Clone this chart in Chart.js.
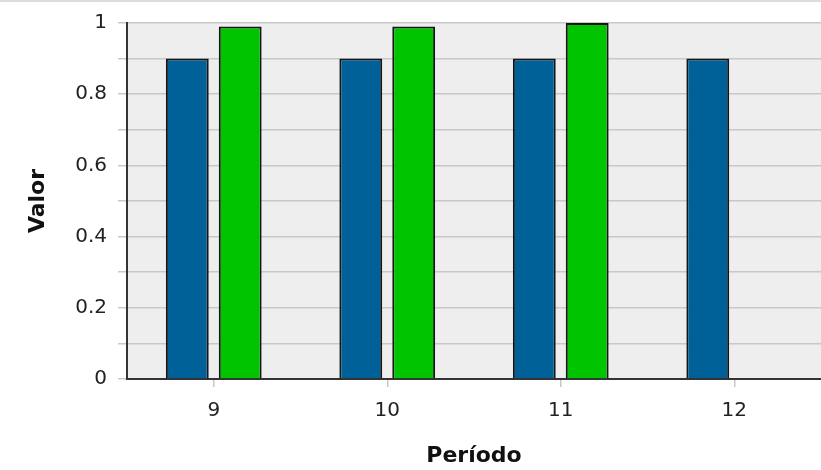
<!DOCTYPE html>
<html>
<head>
<meta charset="utf-8">
<script src="https://cdn.jsdelivr.net/npm/chart.js@4/dist/chart.umd.min.js"></script>
<style>
  html, body { margin: 0; padding: 0; background: #ffffff; overflow: hidden; }
  #topline { position: absolute; left: 0; top: 0; width: 821px; height: 2px; background: #dcdcdc; }
  #wrap { position: absolute; left: 0; top: 0; width: 821px; height: 470px; }
</style>
</head>
<body>
<div id="wrap"><canvas id="c" width="821" height="470"></canvas></div>
<div id="topline"></div>
<script>
const categories = ['9', '10', '11', '12'];
const seriesBlue = [0.9, 0.9, 0.9, 0.9];
const seriesGreen = [0.99, 0.99, 1.0, null];
const yTickValues = [0, 0.2, 0.4, 0.6, 0.8, 1];
const yTickLabels = ['0', '0.2', '0.4', '0.6', '0.8', '1'];
const xTitle = 'Período';
const yTitle = 'Valor';

const plotBg = {
  id: 'plotBg',
  beforeDraw(chart) {
    const { ctx, chartArea: a } = chart;
    ctx.save();
    ctx.fillStyle = '#eeeeee';
    ctx.fillRect(a.left, a.top, a.right - a.left, a.bottom - a.top);
    ctx.restore();
  }
};

new Chart(document.getElementById('c'), {
  type: 'bar',
  data: {
    labels: categories,
    datasets: [
      { label: 'A', data: seriesBlue, backgroundColor: '#006199', borderColor: '#151515', borderWidth: 2 },
      { label: 'B', data: seriesGreen, backgroundColor: '#00c400', borderColor: '#151515', borderWidth: 2 }
    ]
  },
  options: {
    responsive: false,
    animation: false,
    devicePixelRatio: 1,
    categoryPercentage: 0.61,
    barPercentage: 0.81,
    layout: { padding: { top: 22, right: 0, left: 0, bottom: 0 } },
    plugins: { legend: { display: false }, tooltip: { enabled: false } },
    scales: {
      x: {
        grid: { drawOnChartArea: false, offset: false, drawTicks: true, tickLength: 8, color: '#c8c8c8', lineWidth: 1.5 },
        border: { color: '#333333', width: 2 },
        ticks: { color: '#222222', font: { family: 'DejaVu Sans', size: 20 }, padding: 12, maxRotation: 0 },
        title: { display: true, text: xTitle, color: '#111111', font: { family: 'DejaVu Sans', size: 22, weight: 'bold' }, padding: { top: 14, bottom: 1 } },
        afterFit(scale) { scale.height = 91; }
      },
      y: {
        min: 0, max: 1,
        grid: { color: '#c8c8c8', lineWidth: 1.5, tickLength: 9, drawTicks: true },
        border: { color: '#333333', width: 2 },
        ticks: {
          stepSize: 0.1,
          color: '#222222',
          font: { family: 'DejaVu Sans', size: 20 },
          padding: 11,
          callback(value) {
            const i = yTickValues.findIndex(v => Math.abs(v - value) < 1e-6);
            return i >= 0 ? yTickLabels[i] : '';
          }
        },
        title: { display: true, text: yTitle, color: '#111111', font: { family: 'DejaVu Sans', size: 22, weight: 'bold' }, padding: 25 },
        afterFit(scale) { scale.width = 127; }
      }
    }
  },
  plugins: [plotBg]
});
</script>
</body>
</html>
